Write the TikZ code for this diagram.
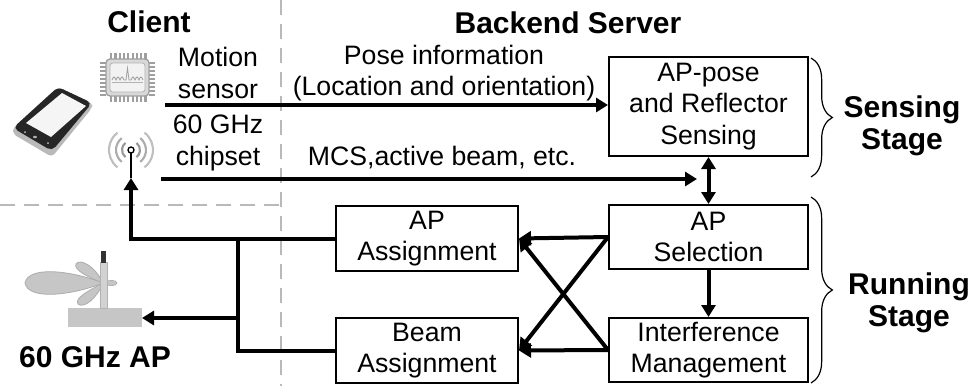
\documentclass[tikz,border=0pt]{standalone}
\usepackage{fontspec}
\setmainfont{Liberation Sans}
\usetikzlibrary{arrows.meta,decorations.pathreplacing}

\begin{document}
\begin{tikzpicture}[x=0.75pt,y=-0.75pt,
  box/.style={draw,line width=1.5pt,inner sep=0pt,align=center,font=\fontsize{20}{23.4}\selectfont},
  txt/.style={inner sep=0pt,align=center,font=\fontsize{20}{23.4}\selectfont},
  head/.style={inner sep=0pt,align=center,font=\fontsize{22.5}{24}\selectfont\bfseries},
  flow/.style={line width=3pt,-{Triangle[length=9pt,width=10.5pt]}},
  link/.style={line width=3pt},
  sep/.style={draw=gray!55,line width=2pt,dash pattern=on 11pt off 7pt},
  brc/.style={decorate,decoration={brace,amplitude=16pt},line width=0.9pt}
]
\fill[white] (0,0) rectangle (976,386);
\useasboundingbox (0,0) rectangle (976,386);

% client / server separators
\draw[sep] (281,0) -- (281,386);
\draw[sep] (0,205) -- (281,205);

% headings
\node[head] (client) at (149,22) {Client};
\node[head] (backend) at (568,23) {Backend Server};

% phone
\fill[gray!55,rounded corners=3pt] (58,87) -- (92,103) -- (92,108) -- (52,157) -- (13,134) -- (13,128) -- cycle;
\fill[black!85,rounded corners=4pt] (58,87) -- (92,103) -- (52,151) -- (13,128) -- cycle;
\fill[gray!8] (62,93) -- (86,106) -- (51,137) -- (26,123) -- cycle;
\fill[gray!60] (35,137) ellipse [x radius=2,y radius=1.2];
\fill[gray!50] (48,143) circle [radius=1];
\fill[gray!50] (25,132) circle [radius=1];

% motion sensor chip
\foreach \i in {0,...,8} {
  \fill[gray!75] (110+4.3*\i,53) rectangle ++(2.2,6);
  \fill[gray!75] (110+4.3*\i,96) rectangle ++(2.2,6);
  \fill[gray!75] (100,62+4*\i) rectangle ++(6,2);
  \fill[gray!75] (149,62+4*\i) rectangle ++(6,2);
}
\filldraw[fill=gray!30,draw=gray!75,line width=1pt,rounded corners=3pt] (106,59) rectangle (149,96);
\filldraw[fill=gray!10,draw=gray!60,line width=0.6pt,rounded corners=2pt] (110,63) rectangle (145,92);
\draw[gray!75,line width=0.6pt] (112,80) sin (114,77) cos (116,80) sin (118,77) cos (120,80) sin (122,77) cos (124,80)
  -- (126,80) -- (127.5,68) -- (129,80) -- (131,80) sin (133,77) cos (135,80) sin (137,77) cos (139,80) sin (141,77) cos (143,80);
\draw[gray!60,line width=0.5pt] (112,82) -- (143,82);

% 60 GHz chipset antenna
\foreach \r/\c in {9/gray!80,15/gray!65,22/gray!50} {
  \draw[\c,line width=1.6pt] (131,150) ++(-52:\r) arc[start angle=-52,end angle=52,radius=\r];
  \draw[\c,line width=1.6pt] (131,150) ++(128:\r) arc[start angle=128,end angle=232,radius=\r];
}
\draw[line width=1pt] (131,153) -- (131,178);
\draw[line width=1pt,fill=white] (131,150) circle [radius=3];

% 60 GHz access point
\fill[gray!45] (68,308) rectangle (142,327);
\filldraw[fill=gray!45,draw=gray!65,line width=0.6pt]
  (103,283) .. controls (70,270) and (28,266) .. (25,283)
            .. controls (28,300) and (70,296) .. (103,283);
\filldraw[fill=gray!45,draw=gray!65,line width=0.6pt]
  (103,283) .. controls (95,266) and (80,258) .. (76,264)
            .. controls (73,270) and (90,278) .. (103,283);
\filldraw[fill=gray!45,draw=gray!65,line width=0.6pt]
  (103,283) .. controls (90,290) and (74,298) .. (78,304)
            .. controls (84,309) and (97,298) .. (103,283);
\filldraw[fill=gray!45,draw=gray!65,line width=0.5pt]
  (103,283) .. controls (108,279) and (117,280) .. (117,283)
            .. controls (117,286) and (108,287) .. (103,283);
\filldraw[fill=gray!35,draw=gray!60,line width=0.6pt] (100,262) rectangle (107,308);
\fill[black!80] (101,251) rectangle (106,263);
\node[head] (aplabel) at (95,357) {60 GHz AP};

% client-side labels
\node[txt] (motion) at (218,73) {Motion\\sensor};
\node[txt] (chipset) at (218,143) {60 GHz\\chipset};
\node[txt] (pose) at (444,73) {Pose information\\(Location and orientation)};
\node[txt] (mcs) at (442,158) {MCS,active beam, etc.};

% processing blocks
\node[box,minimum width=149.25pt,minimum height=74.25pt] (sense) at (708.5,106.5) {AP-pose\\and Reflector\\Sensing};
\node[box,minimum width=149.25pt,minimum height=48pt] (apsel) at (708.5,237) {AP\\Selection};
\node[box,minimum width=149.25pt,minimum height=48pt] (intf) at (708.5,350) {Interference\\Management};
\node[box,minimum width=136.5pt,minimum height=48.75pt] (apasg) at (427,238.5) {AP\\Assignment};
\node[box,minimum width=136.5pt,minimum height=48.75pt] (bmasg) at (427,350.5) {Beam\\Assignment};

% stages
\coordinate (s0) at (811,58);  \coordinate (s1) at (811,177);
\coordinate (r0) at (811,197); \coordinate (r1) at (811,383);
\draw[brc] (s0) -- (s1);
\draw[brc] (r0) -- (r1);
\node[head] (sstage) at (902,126) {Sensing\\Stage};
\node[head] (rstage) at (909,303) {Running\\Stage};

% client to server
\coordinate (m0) at (165,105);
\draw[flow] (m0) -- (m0 -| sense.west);
\coordinate (c0) at (161,179);
\coordinate (c1) at (697,179);
\draw[flow] (c0) -- (c1);
\draw[line width=3pt,{Triangle[length=9pt,width=10.5pt]}-{Triangle[length=9pt,width=10.5pt]}] (sense.south) -- (apsel.north);

% running stage
\draw[flow] (apsel.south) -- (intf.north);
\draw[flow] (apsel.west) -- (apasg.east);
\draw[flow] (apsel.west) -- (bmasg.east);
\draw[flow] (intf.west) -- (apasg.east);
\draw[flow] (intf.west) -- (bmasg.east);

% back to the client and the access point
\coordinate (ant) at (131,178);
\coordinate (j1) at (238,239);
\coordinate (j3) at (238,318);
\coordinate (apb) at (142,318);
\draw[flow] (apasg.west) -- (apasg.west -| ant) -- (ant);
\draw[link] ([yshift=0.75pt]apasg.west -| j1) -- (bmasg.west -| j1) -- (bmasg.west);
\draw[flow] (j3) -- (apb);
\end{tikzpicture}
\end{document}
